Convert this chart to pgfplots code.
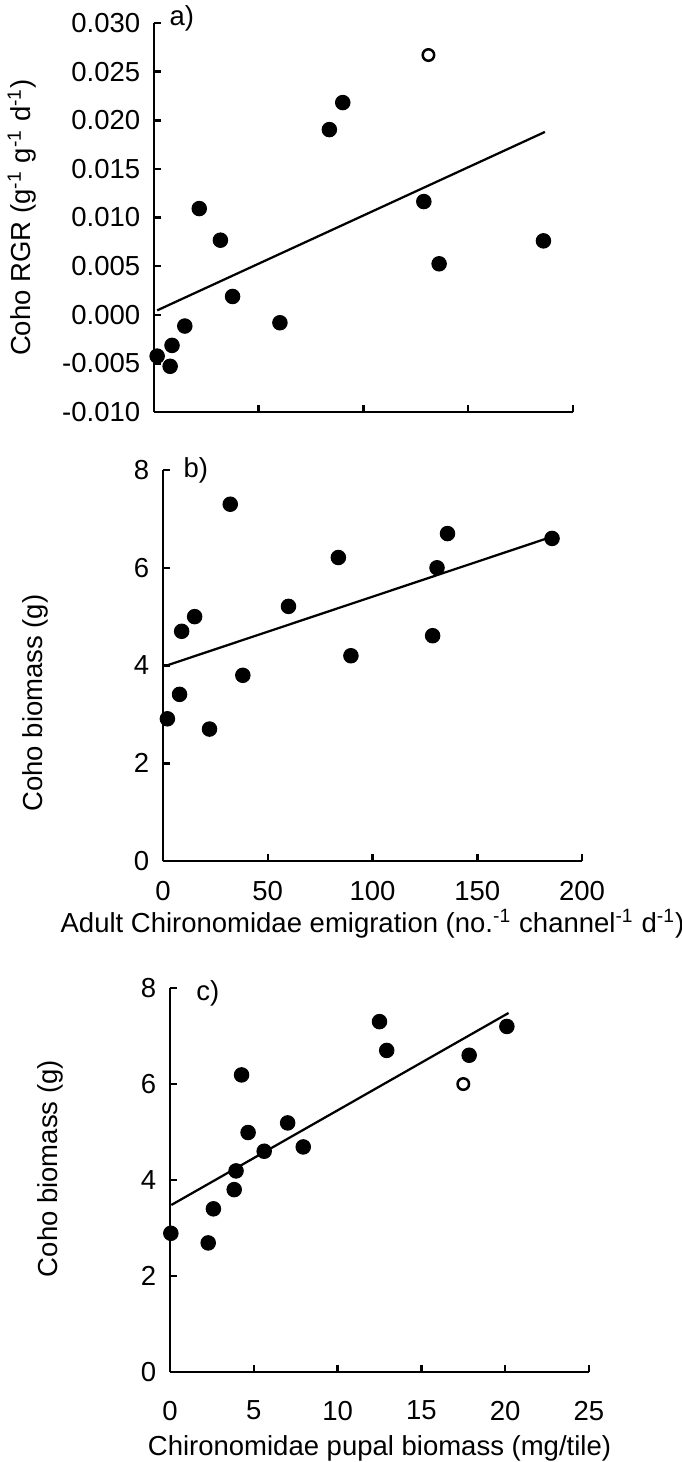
\documentclass[border=0pt]{standalone}
\usepackage{fontspec}
\setmainfont{Liberation Sans}
\usepackage{pgfplots}
\pgfplotsset{compat=1.18}
\pgfplotsset{
  panel/.style={
    scale only axis,
    width=167.6pt,
    axis lines=left,
    axis line style={-, line width=1pt, black},
    tick align=inside,
    major tick length=2.8pt,
    tick style={line width=1pt, black},
    font=\fontsize{11}{13}\selectfont,
    /pgf/number format/assume math mode=true,
    clip=false,
    yticklabel style={xshift=-2pt},
  },
  fillm/.style={only marks, mark=*, mark size=2.9pt, mark options={fill=black, draw=black}},
  openm/.style={only marks, mark=o, mark size=2.3pt, mark options={draw=black, fill=white, line width=1pt}},
  fitl/.style={no marks, line width=0.9pt, black},
}
\begin{document}
\begin{tikzpicture}
\useasboundingbox (0,0) rectangle (272.8pt,-584.8pt);

% Panel a
\begin{axis}[panel,
  at={(61.6pt,-164.8pt)}, anchor=south west,
  height=155.6pt,
  xmin=0, xmax=200, xtick={0,50,100,150,200}, xticklabels={},
  ymin=-0.01, ymax=0.03,
  ytick={-0.01,-0.005,0,0.005,0.01,0.015,0.02,0.025,0.03},
  scaled y ticks=false,
  yticklabel style={/pgf/number format/.cd, fixed, fixed zerofill, precision=3},
  ylabel={Coho RGR (g\textsuperscript{-1} g\textsuperscript{-1} d\textsuperscript{-1})},
  ylabel style={at={(axis description cs:-0.315,0.5)}, anchor=center},
]
\addplot[fillm] coordinates {
(1.5,-0.00425) (7.7,-0.0053) (8.6,-0.00315) (14.7,-0.00116) (21.6,0.01092)
(31.7,0.00767) (37.5,0.00188) (60.1,-0.00082) (83.7,0.01904) (90.1,0.02182)
(128.8,0.01164) (136.1,0.00524) (185.9,0.0076)
};
\addplot[openm] coordinates {(131.0,0.02671)};
\addplot[fitl] coordinates {(1.5,0.00045) (186.6,0.0188)};
\node[anchor=west, inner sep=0pt] at (rel axis cs:0.036,1.013) {a)};
\end{axis}

% Panel b
\begin{axis}[panel,
  at={(65.2pt,-344.4pt)}, anchor=south west,
  height=156.4pt,
  xmin=0, xmax=200, xtick={0,50,100,150,200},
  ymin=0, ymax=8, ytick={0,2,4,6,8},
  xticklabel style={yshift=-4.5pt},
  ylabel={Coho biomass (g)},
  ylabel style={at={(axis description cs:-0.305,0.404)}, anchor=center},
  xlabel={Adult Chironomidae emigration (no.\textsuperscript{-1} channel\textsuperscript{-1} d\textsuperscript{-1})},
  xlabel style={at={(axis description cs:0.5,-0.161)}, anchor=center},
]
\addplot[fillm] coordinates {
(2.1,2.91) (7.9,3.41) (8.9,4.70) (15.1,5.00) (22.2,2.70) (32.1,7.30) (38.1,3.80)
(59.9,5.21) (83.7,6.21) (89.7,4.20) (128.7,4.61) (130.8,6.00) (135.8,6.70) (185.7,6.60)
};
\addplot[fitl] coordinates {(1.0,3.99) (186,6.64)};
\node[anchor=west, inner sep=0pt] at (rel axis cs:0.048,1.0) {b)};
\end{axis}

% Panel c
\begin{axis}[panel,
  at={(68pt,-548.8pt)}, anchor=south west,
  height=153.6pt,
  xmin=0, xmax=25, xtick={0,5,10,15,20,25},
  ymin=0, ymax=8, ytick={0,2,4,6,8},
  xticklabel style={yshift=-8pt},
  ylabel={Coho biomass (g)},
  ylabel style={at={(axis description cs:-0.286,0.53)}, anchor=center},
  xlabel={Chironomidae pupal biomass (mg/tile)},
  xlabel style={at={(axis description cs:0.5,-0.198)}, anchor=center},
]
\addplot[fillm] coordinates {
(0.05,2.89) (2.28,2.69) (2.59,3.40) (3.83,3.80) (3.94,4.19) (4.27,6.19) (4.66,4.99)
(5.62,4.60) (7.02,5.19) (7.95,4.69) (12.5,7.30) (12.93,6.70) (17.85,6.60) (20.1,7.20)
};
\addplot[openm] coordinates {(17.5,6.0)};
\addplot[fitl] coordinates {(0.08,3.48) (20.2,7.48)};
\node[anchor=west, inner sep=0pt] at (rel axis cs:0.062,0.985) {c)};
\end{axis}
\end{tikzpicture}
\end{document}
